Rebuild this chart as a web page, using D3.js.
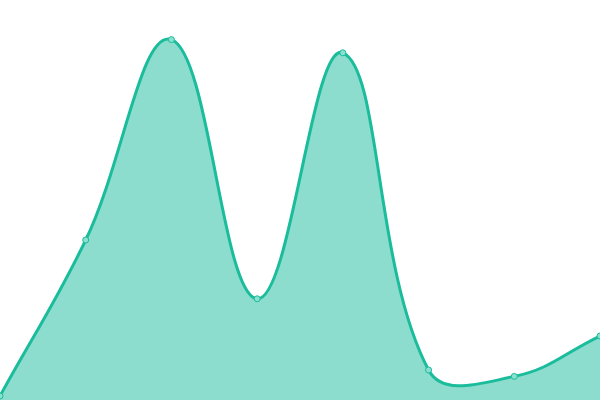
<!DOCTYPE html>
<html>
<head>
<meta charset="utf-8">
<script src="https://cdn.jsdelivr.net/npm/d3@7"></script>
<style>
  html, body { margin: 0; padding: 0; background: #fff; }
  svg { display: block; }
</style>
</head>
<body>
<svg width="600" height="400"></svg>
<script>
// data
const labels = ["A", "B", "C", "D", "E", "F", "G", "H"];
const values = [1, 40, 90.1, 25.3, 86.8, 7.5, 5.9, 16];

const WIDTH = 600
const HEIGHT = 400
const TENSION = 0.4

const svg = d3.select("svg")

const x = d3.scalePoint()
    .domain(labels)
    .range([0, WIDTH])

const y = d3.scaleLinear()
    .domain([0, 100])
    .range([HEIGHT, 0])

const pts = labels.map((l, i) => ({label: l, value: values[i], x: x(l), y: y(values[i])}))

function clamp(v, lo, hi) { return Math.max(lo, Math.min(hi, v)) }

// distance weighted spline (tension 0.4), control points kept inside the plot
function controlPoints(p) {
    const cps = []
    for (let i = 0; i < p.length; i++) {
        const prev = p[Math.max(0, i - 1)], cur = p[i], next = p[Math.min(p.length - 1, i + 1)]
        const d01 = Math.hypot(cur.x - prev.x, cur.y - prev.y)
        const d12 = Math.hypot(next.x - cur.x, next.y - cur.y)
        let s01 = d01 / (d01 + d12), s12 = d12 / (d01 + d12)
        if (isNaN(s01)) s01 = 0
        if (isNaN(s12)) s12 = 0
        const fa = TENSION * s01, fb = TENSION * s12
        cps.push({
            px: clamp(cur.x - fa * (next.x - prev.x), 0, WIDTH),
            py: clamp(cur.y - fa * (next.y - prev.y), 0, HEIGHT),
            nx: clamp(cur.x + fb * (next.x - prev.x), 0, WIDTH),
            ny: clamp(cur.y + fb * (next.y - prev.y), 0, HEIGHT)
        })
    }
    return cps
}

function splinePath(p, closeToBottom) {
    const cps = controlPoints(p)
    const path = d3.path()
    path.moveTo(p[0].x, p[0].y)
    for (let i = 1; i < p.length; i++) {
        path.bezierCurveTo(cps[i - 1].nx, cps[i - 1].ny, cps[i].px, cps[i].py, p[i].x, p[i].y)
    }
    if (closeToBottom) {
        path.lineTo(p[p.length - 1].x, HEIGHT)
        path.lineTo(p[0].x, HEIGHT)
        path.closePath()
    }
    return path.toString()
}

svg.append("path")
    .attr("d", splinePath(pts, true))
    .attr("fill", "rgba(26,188,156,0.5)")

svg.append("path")
    .attr("d", splinePath(pts, false))
    .attr("fill", "none")
    .attr("stroke", "#1abc9c")
    .attr("stroke-width", 3)

svg.append("g")
    .selectAll("circle")
    .data(pts)
    .enter().append("circle")
    .attr("cx", d => d.x)
    .attr("cy", d => d.y)
    .attr("r", 3)
    .attr("fill", "#8ce0d0")
    .attr("stroke", "#1abc9c")
    .attr("stroke-width", 1)
</script>
</body>
</html>
